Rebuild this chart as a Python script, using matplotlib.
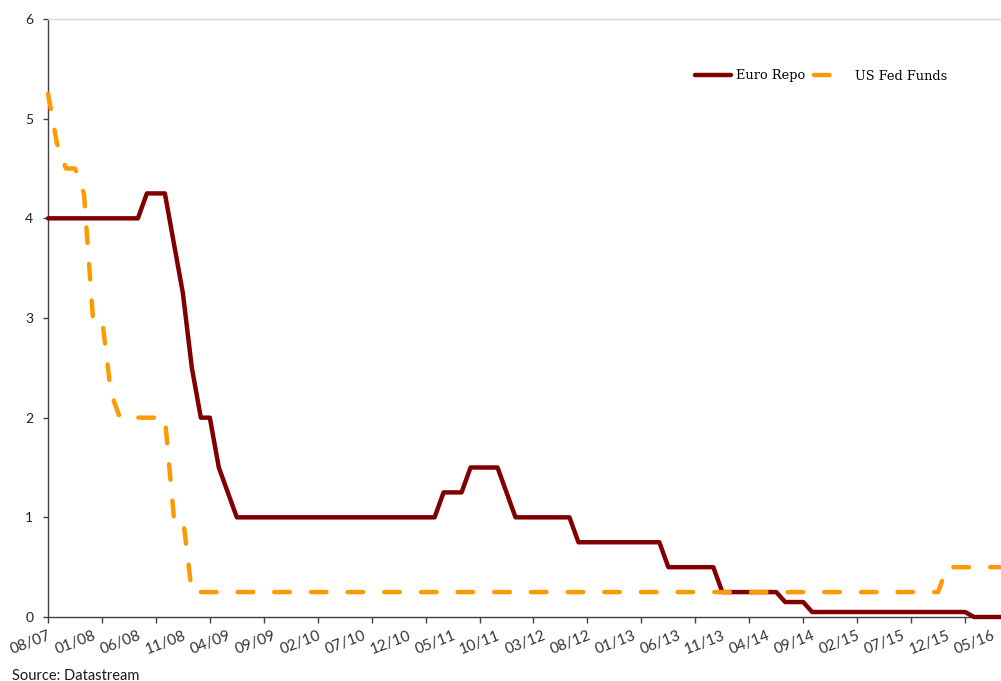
import matplotlib
matplotlib.use("Agg")
import matplotlib.pyplot as plt
import numpy as np

# Monthly end-of-month policy rates, Aug 2007 .. Jun 2016
euro_repo = [
    4.0, 4.0, 4.0, 4.0, 4.0,                                                  # 2007 Aug-Dec
    4.0, 4.0, 4.0, 4.0, 4.0, 4.0, 4.25, 4.25, 4.25, 3.75, 3.25, 2.5,          # 2008
    2.0, 2.0, 1.5, 1.25, 1.0, 1.0, 1.0, 1.0, 1.0, 1.0, 1.0, 1.0,              # 2009
    1.0, 1.0, 1.0, 1.0, 1.0, 1.0, 1.0, 1.0, 1.0, 1.0, 1.0, 1.0,               # 2010
    1.0, 1.0, 1.0, 1.25, 1.25, 1.25, 1.5, 1.5, 1.5, 1.5, 1.25, 1.0,           # 2011
    1.0, 1.0, 1.0, 1.0, 1.0, 1.0, 0.75, 0.75, 0.75, 0.75, 0.75, 0.75,         # 2012
    0.75, 0.75, 0.75, 0.75, 0.5, 0.5, 0.5, 0.5, 0.5, 0.5, 0.25, 0.25,         # 2013
    0.25, 0.25, 0.25, 0.25, 0.25, 0.15, 0.15, 0.15, 0.05, 0.05, 0.05, 0.05,   # 2014
    0.05, 0.05, 0.05, 0.05, 0.05, 0.05, 0.05, 0.05, 0.05, 0.05, 0.05, 0.05,   # 2015
    0.05, 0.05, 0.0, 0.0, 0.0, 0.0,                                           # 2016 Jan-Jun
]
us_fed_funds = [
    5.25, 4.75, 4.5, 4.5, 4.25,                                               # 2007 Aug-Dec
    3.0, 3.0, 2.25, 2.0, 2.0, 2.0, 2.0, 2.0, 2.0, 1.0, 1.0, 0.25,             # 2008
    0.25, 0.25, 0.25, 0.25, 0.25, 0.25, 0.25, 0.25, 0.25, 0.25, 0.25, 0.25,   # 2009
    0.25, 0.25, 0.25, 0.25, 0.25, 0.25, 0.25, 0.25, 0.25, 0.25, 0.25, 0.25,   # 2010
    0.25, 0.25, 0.25, 0.25, 0.25, 0.25, 0.25, 0.25, 0.25, 0.25, 0.25, 0.25,   # 2011
    0.25, 0.25, 0.25, 0.25, 0.25, 0.25, 0.25, 0.25, 0.25, 0.25, 0.25, 0.25,   # 2012
    0.25, 0.25, 0.25, 0.25, 0.25, 0.25, 0.25, 0.25, 0.25, 0.25, 0.25, 0.25,   # 2013
    0.25, 0.25, 0.25, 0.25, 0.25, 0.25, 0.25, 0.25, 0.25, 0.25, 0.25, 0.25,   # 2014
    0.25, 0.25, 0.25, 0.25, 0.25, 0.25, 0.25, 0.25, 0.25, 0.25, 0.25, 0.5,    # 2015
    0.5, 0.5, 0.5, 0.5, 0.5, 0.5,                                             # 2016 Jan-Jun
]
tick_labels = ["08/07", "01/08", "06/08", "11/08", "04/09", "09/09", "02/10",
               "07/10", "12/10", "05/11", "10/11", "03/12", "08/12", "01/13",
               "06/13", "11/13", "04/14", "09/14", "02/15", "07/15", "12/15",
               "05/16"]
series_names = ["Euro Repo", "US Fed Funds"]
source_text = "Source: Datastream"

months = np.arange(len(euro_repo))

W, H = 1001, 681
fig = plt.figure(figsize=(W / 100, H / 100), dpi=100)
ax = fig.add_axes([48 / W, 1 - 617 / H, 1 - 48 / W, (617 - 19) / H])

RED = "#800000"
ORANGE = "#FF9900"
l1, = ax.plot(months, euro_repo, color=RED, lw=3.2, solid_capstyle="round",
              solid_joinstyle="round", clip_on=False, zorder=3, label=series_names[0])
l2, = ax.plot(months, us_fed_funds, color=ORANGE, lw=3.2, dash_capstyle="round",
              dash_joinstyle="round", clip_on=False, zorder=4, label=series_names[1])
l2.set_dashes((3.5, 4.75))

ax.set_xlim(0, 106)
ax.set_ylim(0, 6)

# tick marks every 6 months, labels every 5 months
ax.xaxis.remove_overlapping_locs = False
ax.set_xticks(np.arange(0, 106, 6))
ax.set_xticklabels([])
ax.set_xticks(np.arange(0, 5 * len(tick_labels), 5), minor=True)
ax.set_xticklabels(tick_labels, minor=True, rotation=21, ha="right", va="top",
                   rotation_mode="anchor", family="Lato", fontsize=11,
                   color="#333333")
ax.tick_params(axis="x", which="major", direction="out", length=4.5, width=1,
               color="#404040")
ax.tick_params(axis="x", which="minor", length=0, pad=8.5)

ax.set_yticks(np.arange(0, 7, 1))
ax.tick_params(axis="y", direction="out", length=3.6, width=1, color="#404040",
               pad=7, labelsize=10, labelcolor="#202020")
for t in ax.get_yticklabels():
    t.set_family("Lato")

for s in ["left", "bottom"]:
    ax.spines[s].set_color("#404040")
    ax.spines[s].set_linewidth(1)
ax.spines["top"].set_color("#d9d9d9")
ax.spines["top"].set_linewidth(1)
ax.spines["right"].set_visible(False)

fig.legend(handles=[l1, l2], loc="center left",
           bbox_to_anchor=(695 / W, 1 - 76 / H), ncol=2, frameon=False,
           prop={"family": "DejaVu Serif", "size": 9.3},
           handlelength=2.75, handletextpad=0.4, columnspacing=0.7,
           borderpad=0, borderaxespad=0)

fig.text(12 / W, 1 - 676 / H, source_text, family="Lato", fontsize=10.5,
         color="#1a1a1a", va="center", ha="left")

fig.savefig("out.png", dpi=100)
